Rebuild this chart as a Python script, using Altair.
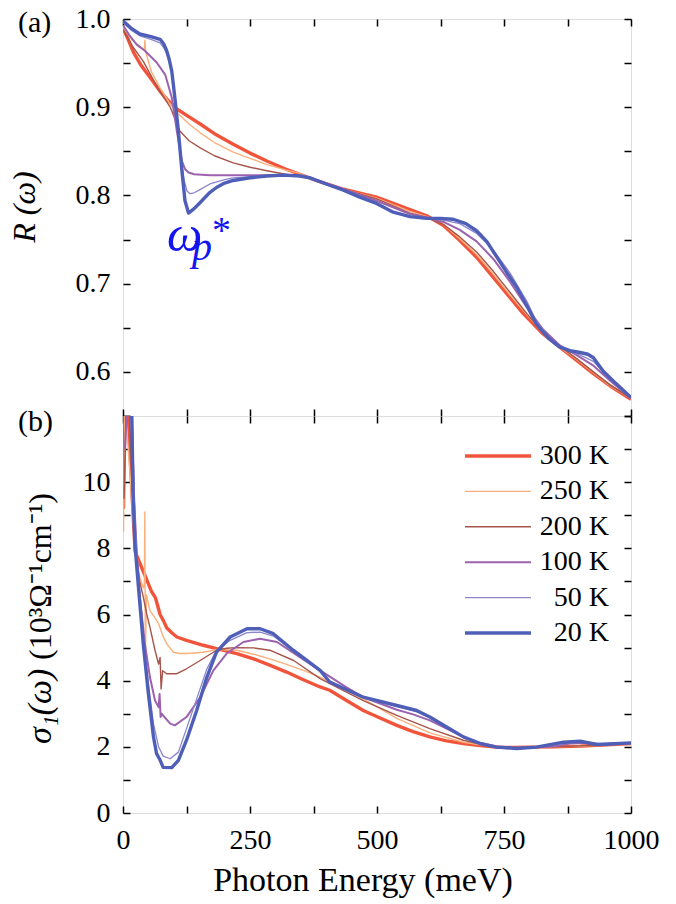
import altair as alt
import pandas as pd

FONT = "Liberation Serif"

temps = ["300 K", "250 K", "200 K", "100 K", "50 K", "20 K"]
colors = ["#F0553C", "#FAB07C", "#A5554A", "#9C62AE", "#8C84CC", "#4F5FB8"]
widths = [3.4, 1.4, 1.4, 2.0, 1.3, 3.4]

# ---------------- panel (a): reflectivity R(w) ----------------
r300_e = [0, 10, 20, 35, 53, 73, 90, 106, 130, 152, 180, 217, 250, 283, 320, 348, 380, 434, 499, 565, 598, 631, 663, 696, 729, 762, 788, 827, 860, 893, 926, 959, 1000]
r300_v = [0.990, 0.977, 0.963, 0.948, 0.934, 0.918, 0.907, 0.898, 0.889, 0.881, 0.870, 0.858, 0.848, 0.839, 0.830, 0.824, 0.817, 0.807, 0.798, 0.784, 0.777, 0.766, 0.749, 0.730, 0.707, 0.684, 0.666, 0.643, 0.628, 0.613, 0.598, 0.584, 0.569]

r250_e = [0, 20, 40, 42, 43, 45, 56, 73, 90, 106, 130, 152, 180, 217, 250, 283, 320, 348, 368, 434, 499, 565, 598, 631, 663, 696, 729, 762, 795, 827, 860, 893, 926, 959, 1000]
r250_v = [0.990, 0.975, 0.966, 0.966, 0.976, 0.962, 0.940, 0.922, 0.906, 0.894, 0.881, 0.871, 0.860, 0.849, 0.842, 0.835, 0.829, 0.825, 0.819, 0.807, 0.797, 0.782, 0.776, 0.767, 0.751, 0.733, 0.711, 0.687, 0.665, 0.645, 0.628, 0.614, 0.599, 0.584, 0.570]

r200_e = [0, 20, 40, 56, 73, 93, 112, 130, 152, 180, 217, 250, 283, 320, 348, 368, 434, 499, 565, 598, 631, 663, 696, 729, 762, 795, 827, 860, 893, 926, 959, 1000]
r200_v = [0.988, 0.968, 0.952, 0.935, 0.917, 0.900, 0.873, 0.862, 0.854, 0.845, 0.837, 0.832, 0.828, 0.824, 0.822, 0.819, 0.807, 0.796, 0.780, 0.775, 0.767, 0.753, 0.736, 0.714, 0.690, 0.666, 0.645, 0.629, 0.615, 0.600, 0.585, 0.570]

r100_e = [0, 12, 27, 43, 66, 83, 96, 106, 116, 122, 129, 140, 171, 217, 250, 283, 348, 368, 434, 499, 565, 598, 631, 663, 696, 729, 762, 795, 827, 860, 893, 926, 959, 1000]
r100_v = [0.993, 0.982, 0.971, 0.964, 0.951, 0.937, 0.911, 0.873, 0.839, 0.830, 0.826, 0.824, 0.823, 0.823, 0.823, 0.823, 0.823, 0.820, 0.807, 0.794, 0.779, 0.775, 0.770, 0.761, 0.748, 0.728, 0.702, 0.673, 0.648, 0.630, 0.619, 0.607, 0.590, 0.570]

r50_e = [0, 15, 33, 55, 73, 82, 90, 97, 105, 112, 120, 126, 132, 140, 150, 171, 200, 217, 250, 283, 316, 348, 368, 434, 499, 532, 565, 598, 631, 663, 696, 729, 762, 795, 814, 838, 860, 880, 900, 926, 945, 970, 1000]
r50_v = [0.996, 0.988, 0.981, 0.977, 0.973, 0.966, 0.955, 0.935, 0.895, 0.852, 0.818, 0.805, 0.802, 0.803, 0.806, 0.813, 0.818, 0.820, 0.821, 0.822, 0.823, 0.822, 0.820, 0.806, 0.791, 0.781, 0.776, 0.774, 0.772, 0.768, 0.757, 0.738, 0.712, 0.680, 0.657, 0.639, 0.628, 0.623, 0.619, 0.612, 0.600, 0.586, 0.571]

r20_e = [0, 15, 33, 55, 73, 80, 86, 91, 96, 102, 109, 116, 122, 129, 140, 152, 170, 184, 200, 217, 250, 283, 316, 348, 368, 400, 434, 466, 499, 532, 565, 598, 625, 650, 675, 696, 716, 736, 755, 775, 795, 814, 838, 860, 880, 900, 915, 926, 945, 970, 1000]
r20_v = [0.998, 0.990, 0.983, 0.980, 0.977, 0.972, 0.964, 0.954, 0.941, 0.911, 0.873, 0.828, 0.794, 0.780, 0.785, 0.792, 0.803, 0.809, 0.814, 0.817, 0.820, 0.822, 0.823, 0.822, 0.820, 0.813, 0.806, 0.798, 0.791, 0.781, 0.776, 0.774, 0.774, 0.773, 0.768, 0.760, 0.748, 0.730, 0.713, 0.696, 0.675, 0.654, 0.638, 0.628, 0.624, 0.622, 0.620, 0.616, 0.601, 0.587, 0.571]

# ---------------- panel (b): optical conductivity sigma1(w) ----------------
s300_e = [1, 4, 8, 12, 16, 20, 24, 32, 40, 48, 56, 64, 73, 80, 86, 96, 106, 125, 158, 184, 224, 257, 290, 322, 355, 388, 407, 440, 473, 506, 539, 571, 604, 637, 670, 703, 735, 768, 801, 850, 900, 933, 1000]
s300_v = [9.2, 12.3, 12.3, 11.5, 10.2, 9.0, 7.9, 7.6, 7.3, 7.0, 6.7, 6.5, 6.0, 5.8, 5.6, 5.45, 5.32, 5.22, 5.07, 4.97, 4.82, 4.66, 4.46, 4.26, 4.03, 3.81, 3.71, 3.40, 3.10, 2.87, 2.65, 2.46, 2.30, 2.18, 2.10, 2.04, 1.99, 1.98, 1.99, 2.00, 2.02, 2.05, 2.10]

s250_e = [1, 4, 8, 14, 20, 27, 33, 40, 42, 43, 44, 46, 53, 63, 70, 80, 86, 99, 112, 125, 158, 184, 224, 257, 289, 322, 355, 388, 440, 473, 539, 604, 670, 703, 735, 768, 801, 850, 900, 950, 1000]
s250_v = [8.5, 12.3, 11.5, 10.2, 8.8, 7.8, 7.13, 6.8, 6.9, 9.1, 4.6, 6.6, 6.12, 5.9, 5.72, 5.3, 5.12, 4.86, 4.82, 4.82, 4.86, 4.94, 4.92, 4.80, 4.66, 4.49, 4.31, 4.11, 3.72, 3.45, 2.86, 2.42, 2.14, 2.06, 2.00, 1.98, 1.99, 2.00, 2.02, 2.05, 2.10]

s200_e = [2, 6, 12, 18, 27, 33, 40, 47, 53, 63, 70, 73, 75, 78, 86, 106, 125, 152, 184, 204, 224, 257, 289, 336, 388, 440, 473, 539, 604, 670, 703, 735, 768, 801, 850, 900, 950, 1000]
s200_v = [9.5, 12.3, 12.3, 9.8, 7.63, 7.0, 6.52, 6.0, 5.62, 4.92, 4.5, 4.7, 3.75, 4.3, 4.21, 4.21, 4.36, 4.61, 4.92, 4.98, 5.00, 4.99, 4.92, 4.61, 4.06, 3.65, 3.40, 2.95, 2.55, 2.20, 2.08, 2.01, 1.98, 1.99, 2.00, 2.03, 2.05, 2.10]

s100_e = [4, 8, 16, 22, 27, 33, 43, 53, 63, 70, 72, 74, 76, 93, 102, 125, 152, 178, 204, 237, 270, 303, 348, 388, 440, 473, 539, 571, 604, 637, 670, 703, 735, 768, 801, 850, 880, 910, 950, 1000]
s100_v = [11.0, 12.3, 12.3, 9.5, 7.84, 6.52, 5.12, 4.11, 3.40, 3.2, 3.6, 2.9, 3.00, 2.70, 2.65, 2.90, 3.50, 4.31, 4.82, 5.17, 5.27, 5.17, 4.71, 4.31, 3.80, 3.50, 3.12, 2.98, 2.80, 2.55, 2.30, 2.12, 2.02, 1.97, 1.98, 2.02, 2.10, 2.12, 2.07, 2.10]

s50_e = [6, 18, 23, 30, 40, 50, 60, 70, 79, 93, 109, 125, 145, 165, 184, 211, 244, 270, 296, 335, 388, 407, 473, 539, 578, 604, 637, 670, 703, 735, 775, 814, 867, 900, 933, 1000]
s50_v = [12.3, 12.3, 9.0, 7.2, 5.4, 3.9, 2.7, 2.0, 1.72, 1.64, 1.84, 2.55, 3.45, 4.35, 4.92, 5.22, 5.45, 5.47, 5.35, 4.90, 4.28, 3.96, 3.50, 3.22, 3.06, 2.88, 2.58, 2.30, 2.10, 2.00, 1.97, 1.99, 2.10, 2.14, 2.07, 2.12]

s20_e = [8, 17, 20, 23.6, 30, 40, 50, 60, 66, 73, 79, 96, 109, 125, 145, 165, 184, 211, 244, 270, 296, 335, 388, 407, 473, 539, 578, 604, 637, 670, 703, 735, 775, 814, 867, 900, 933, 1000]
s20_v = [12.3, 12.3, 9.5, 8.1, 6.9, 5.1, 3.6, 2.3, 1.8, 1.6, 1.38, 1.37, 1.59, 2.2, 3.1, 4.1, 4.86, 5.32, 5.57, 5.57, 5.42, 4.92, 4.31, 3.96, 3.50, 3.25, 3.10, 2.90, 2.60, 2.30, 2.10, 1.99, 1.95, 1.99, 2.14, 2.17, 2.07, 2.12]

# ---------------- ticks ----------------
x_ticks = [0, 125, 250, 375, 500, 625, 750, 875, 1000]
x_labels = [0, 250, 500, 750, 1000]
r_ticks = [0.55, 0.6, 0.65, 0.7, 0.75, 0.8, 0.85, 0.9, 0.95, 1.0]
r_labels = [0.6, 0.7, 0.8, 0.9, 1.0]
s_ticks = [0, 1, 2, 3, 4, 5, 6, 7, 8, 9, 10, 11, 12]
s_labels = [0, 2, 4, 6, 8, 10]


def frame(series):
    rows = []
    for temp, w, es, vs in series:
        for e, v in zip(es, vs):
            rows.append({"E": e, "v": v, "temp": temp, "w": w})
    return pd.DataFrame(rows)


dfR = frame(list(zip(temps, widths,
                     [r300_e, r250_e, r200_e, r100_e, r50_e, r20_e],
                     [r300_v, r250_v, r200_v, r100_v, r50_v, r20_v])))
dfS = frame(list(zip(temps, widths,
                     [s300_e, s250_e, s200_e, s100_e, s50_e, s20_e],
                     [s300_v, s250_v, s200_v, s100_v, s50_v, s20_v])))
dfLeg = pd.DataFrame({"temp": temps, "w": widths})

color_scale = alt.Scale(domain=temps, range=colors)


def axis(values, orient, labels=None, fmt=None):
    kw = dict(values=values, orient=orient, domain=False, grid=False, ticks=True,
              tickSize=7, tickWidth=1.5, tickColor="black", offset=-7, title=None,
              labelFlush=False, labelOverlap=False, labelFont=FONT, labelFontSize=28,
              labelColor="black", labelPadding=13)
    if labels is None:
        kw["labels"] = False
    else:
        kw["labelExpr"] = "indexof(%s, datum.value) >= 0 ? datum.label : ''" % (
            "[" + ",".join(str(v) for v in labels) + "]")
        kw["format"] = fmt
    return alt.Axis(**kw)


def text(t, x, y, size, style="normal", color="black", angle=0, align="left",
         baseline="alphabetic"):
    return alt.Chart(pd.DataFrame({"t": [t]})).mark_text(
        font=FONT, fontSize=size, fontStyle=style, color=color, angle=angle,
        align=align, baseline=baseline).encode(
        x=alt.value(x), y=alt.value(y), text="t:N")


xs = alt.Scale(domain=[0, 1000], nice=False, zero=False)
rs = alt.Scale(domain=[0.55, 1.0], nice=False, zero=False)
ss = alt.Scale(domain=[0, 12], nice=False, zero=False)

W, H = 508, 397


def panel(df, ys, yticks, ylabels, yfmt, xlabels):
    main = alt.Chart(df).mark_line(clip=True, strokeJoin="round").encode(
        x=alt.X("E:Q", scale=xs, axis=axis(x_ticks, "bottom", xlabels, "d")),
        y=alt.Y("v:Q", scale=ys, axis=axis(yticks, "left", ylabels, yfmt)),
        color=alt.Color("temp:N", scale=color_scale, legend=None),
        strokeWidth=alt.StrokeWidth("w:Q", scale=None, legend=None),
    )
    mirror = alt.Chart(df).mark_line(clip=True, strokeOpacity=0).encode(
        x=alt.X("E:Q", scale=xs, axis=axis(x_ticks, "top")),
        y=alt.Y("v:Q", scale=ys, axis=axis(yticks, "right")),
        detail="temp:N",
    )
    return main, mirror


mainA, mirrorA = panel(dfR, rs, r_ticks, r_labels, ".1f", None)
panelA = alt.layer(
    mainA, mirrorA,
    text("(a)", -105, 13, 30),
    text("R (\u03c9)", -88, 188, 32, style="italic", angle=270, align="center"),
    text("\u03c9", 44, 232, 50, style="italic", color="#1414F0"),
    text("p", 69, 241, 40, style="italic", color="#1414F0"),
    text("*", 89, 224, 38, color="#1414F0"),
).resolve_axis(x="independent", y="independent").properties(width=W, height=H)

mainB, mirrorB = panel(dfS, ss, s_ticks, s_labels, "d", x_labels)
legY = alt.Y("temp:N", scale=alt.Scale(type="point", domain=temps, range=[40, 217], padding=0), axis=None)
leg_lines = alt.Chart(dfLeg).mark_rule().encode(
    x=alt.value(342), x2=alt.value(408), y=legY,
    color=alt.Color("temp:N", scale=color_scale, legend=None),
    strokeWidth=alt.StrokeWidth("w:Q", scale=None, legend=None),
)
leg_text = alt.Chart(dfLeg).mark_text(font=FONT, fontSize=28, align="right", baseline="middle",
                                      color="black").encode(
    x=alt.value(486), y=legY, text="temp:N")

panelB = alt.layer(
    mainB, mirrorB, leg_lines, leg_text,
    text("(b)", -105, 15, 30),
    text("\u03c3\u2081(\u03c9)", -72, 328, 34, style="italic", angle=270, align="left"),
    text("(10\u00b3\u03a9\u207b\u00b9cm\u207b\u00b9)", -72, 77, 32, angle=270, align="right"),
    text("Photon Energy (meV)", 240, 475, 34, align="center"),
).resolve_axis(x="independent", y="independent").resolve_scale(y="independent").properties(
    width=W, height=H)

chart = alt.vconcat(panelA, panelB, spacing=0, bounds="flush").properties(
    padding={"left": 0, "top": -4, "right": 5, "bottom": 5}
).configure_view(stroke="black", strokeWidth=2).configure(
    background="white", font=FONT
).configure_axis(labelFont=FONT).configure_text(font=FONT)

chart.save("out.html", embed_options={"renderer": "svg", "actions": False})
